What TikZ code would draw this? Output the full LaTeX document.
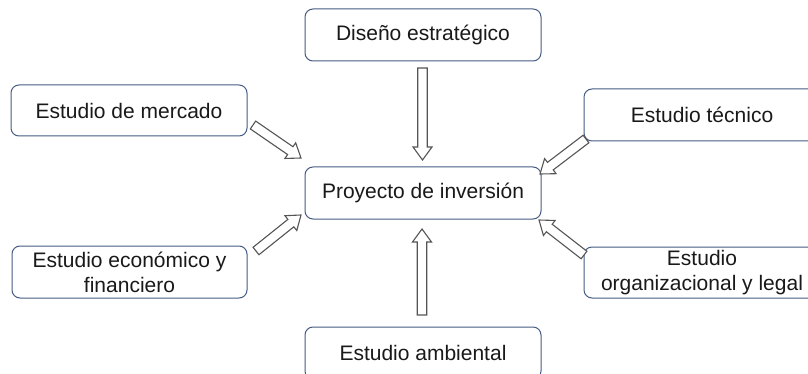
\documentclass[tikz,border=0pt]{standalone}
\usepackage{fontspec}
\setmainfont{Liberation Sans}
\usetikzlibrary{calc}
\definecolor{boxline}{RGB}{70,92,132}
\definecolor{arrline}{RGB}{85,85,85}
\definecolor{txt}{RGB}{25,25,25}
\tikzset{
  box/.style={draw=boxline, line width=1pt, rounded corners=8pt, fill=white,
    minimum width=236pt, minimum height=52pt, inner sep=0pt, align=center,
    text=txt, font=\fontsize{21}{25}\selectfont},
  blockarr/.style={draw=arrline, line width=1.1pt, fill=white, line join=miter}
}
\newcommand{\blockarrow}[3]{%
  \coordinate (#3h) at ($(#2)!13pt!(#1)$);
  \draw[blockarr] ($(#1)!4.75pt!90:(#2)$) -- ($(#3h)!4.75pt!-90:(#1)$) -- ($(#3h)!9.5pt!-90:(#1)$) -- (#2)
    -- ($(#3h)!9.5pt!90:(#1)$) -- ($(#3h)!4.75pt!90:(#1)$) -- ($(#1)!4.75pt!-90:(#2)$) -- cycle;
}
\begin{document}
\begin{tikzpicture}[x=1pt,y=-1pt]
\clip (0,0) rectangle (808,374);
\fill[white] (0,0) rectangle (808,374);

\node[box] (diseno) at (423,35) {Diseño estratégico};
\node[box, minimum height=51pt] (mercado) at (129,110.5) {Estudio de mercado};
\node[box] (tecnico) at (702,115) {Estudio técnico};
\node[box] (proyecto) at (423,193) {Proyecto de inversión};
\node[box, minimum width=235pt] (economico) at (129.5,272) {Estudio económico y\\financiero};
\node[box] (ambiental) at (423,353) {Estudio ambiental};
\node[box, minimum height=51pt] (organiz) at (702,272.5) {Estudio\\organizacional y legal};

\coordinate (dT) at (422.5,68);   \coordinate (dH) at (422.5,160);
\coordinate (aT) at (422,315);    \coordinate (aH) at (422,229);
\coordinate (mT) at (253,125);    \coordinate (mH) at (301,158);
\coordinate (tT) at (586,139);    \coordinate (tH) at (540,174);
\coordinate (eT) at (256,251);    \coordinate (eH) at (301,215);
\coordinate (oT) at (584,255);    \coordinate (oH) at (539,220);

\blockarrow{dT}{dH}{d}
\blockarrow{aT}{aH}{a}
\blockarrow{mT}{mH}{m}
\blockarrow{tT}{tH}{t}
\blockarrow{eT}{eH}{e}
\blockarrow{oT}{oH}{o}
\end{tikzpicture}
\end{document}
